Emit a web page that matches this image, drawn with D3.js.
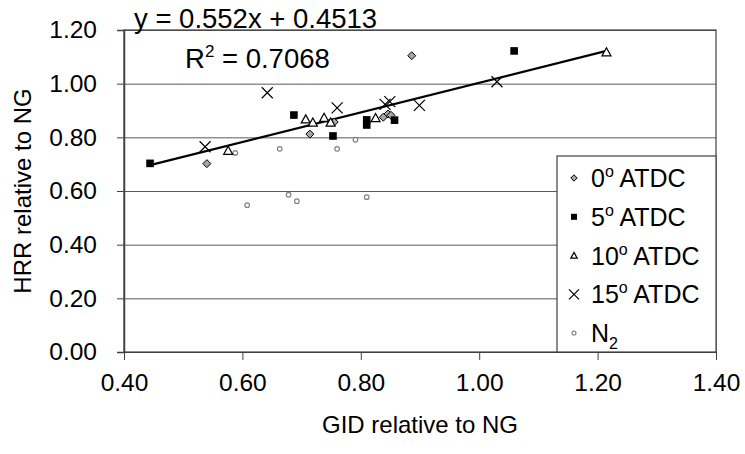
<!DOCTYPE html>
<html>
<head>
<meta charset="utf-8">
<script src="https://cdn.jsdelivr.net/npm/d3@7"></script>
<style>
  body { margin: 0; background: #fff; }
  svg { display: block; font-family: "Liberation Sans", Arial, sans-serif; }
</style>
</head>
<body>
<div id="chart"></div>
<script>
// GID relative to NG (x) and HRR relative to NG (y)
var gid0 = [0.540, 0.714, 0.750, 0.755, 0.838, 0.846, 0.851, 0.886];
var hrr0 = [0.702, 0.812, 0.855, 0.857, 0.875, 0.887, 0.882, 1.104];

var gid5 = [0.444, 0.687, 0.753, 0.810, 0.810, 0.857, 1.059];
var hrr5 = [0.703, 0.883, 0.805, 0.865, 0.846, 0.864, 1.122];

var gid10 = [0.576, 0.707, 0.719, 0.738, 0.749, 0.825, 1.215];
var hrr10 = [0.750, 0.867, 0.855, 0.873, 0.855, 0.872, 1.117];

var gid15 = [0.537, 0.642, 0.760, 0.841, 0.849, 0.899, 1.030];
var hrr15 = [0.765, 0.966, 0.910, 0.923, 0.933, 0.919, 1.007];

var gidN2 = [0.588, 0.663, 0.760, 0.791, 0.608, 0.678, 0.692, 0.810];
var hrrN2 = [0.742, 0.757, 0.757, 0.791, 0.547, 0.586, 0.562, 0.577];

var xTicks = [0.40, 0.60, 0.80, 1.00, 1.20, 1.40];
var yTicks = [0.00, 0.20, 0.40, 0.60, 0.80, 1.00, 1.20];

var slope = 0.552, intercept = 0.4513, r2 = 0.7068;

var width = 745, height = 454;
var pLeft = 124, pRight = 716, pTop = 30, pBottom = 352;

var x = d3.scaleLinear().domain([0.4, 1.4]).range([pLeft, pRight]);
var y = d3.scaleLinear().domain([0, 1.2]).range([pBottom, pTop]);

var svg = d3.select("#chart").append("svg")
    .attr("width", width)
    .attr("height", height);

// gridlines
svg.append("g")
    .attr("transform", "translate(" + pLeft + ",0)")
    .call(d3.axisLeft(y).tickValues(yTicks).tickSize(-(pRight - pLeft)).tickFormat(""))
    .call(g => g.select(".domain").remove())
    .call(g => g.selectAll("line").attr("stroke", "#5a5a5a"));

// plot border
svg.append("rect")
    .attr("x", pLeft).attr("y", pTop)
    .attr("width", pRight - pLeft).attr("height", pBottom - pTop)
    .attr("fill", "none").attr("stroke", "#404040").attr("stroke-width", 1.2);

// y axis
svg.append("g")
    .attr("transform", "translate(" + pLeft + ",0)")
    .call(d3.axisLeft(y).tickValues(yTicks).tickSize(7).tickPadding(20).tickFormat(d3.format(".2f")))
    .call(g => g.select(".domain").attr("stroke", "#404040").attr("stroke-width", 1.5))
    .call(g => g.selectAll("line").attr("stroke", "#404040"))
    .call(g => g.selectAll("text").attr("font-size", 24.5).attr("fill", "#000").attr("font-family", null));

// x axis
svg.append("g")
    .attr("transform", "translate(0," + pBottom + ")")
    .call(d3.axisBottom(x).tickValues(xTicks).tickSize(8).tickPadding(14).tickFormat(d3.format(".2f")))
    .call(g => g.select(".domain").attr("stroke", "#404040"))
    .call(g => g.selectAll("line").attr("stroke", "#404040"))
    .call(g => g.selectAll("text").attr("font-size", 24.5).attr("fill", "#000").attr("font-family", null));

// axis titles
svg.append("text")
    .attr("transform", "translate(31," + ((pTop + pBottom) / 2) + ") rotate(-90)")
    .attr("text-anchor", "middle")
    .attr("font-size", 24)
    .text("HRR relative to NG");

svg.append("text")
    .attr("x", (pLeft + pRight) / 2)
    .attr("y", 433)
    .attr("text-anchor", "middle")
    .attr("font-size", 24)
    .text("GID relative to NG");

// trendline over the fitted series (N2 not included)
var fitX = gid0.concat(gid5, gid10, gid15);
var x0 = d3.min(fitX), x1 = d3.max(fitX);
svg.append("line")
    .attr("x1", x(x0)).attr("y1", y(slope * x0 + intercept))
    .attr("x2", x(x1)).attr("y2", y(slope * x1 + intercept))
    .attr("stroke", "#000").attr("stroke-width", 2.2);

// marker drawers
function diamond(g, s) {
    g.append("path").attr("d", "M0," + (-s) + "L" + s + ",0L0," + s + "L" + (-s) + ",0Z")
        .attr("fill", "#a6a6a6").attr("stroke", "#000").attr("stroke-width", 1);
}
function square(g, s) {
    g.append("rect").attr("x", -s).attr("y", -s).attr("width", 2 * s).attr("height", 2 * s)
        .attr("fill", "#000");
}
function triangle(g, s) {
    g.append("path").attr("d", "M0," + (-s) + "L" + s + "," + (s * 0.8) + "L" + (-s) + "," + (s * 0.8) + "Z")
        .attr("fill", "#fff").attr("stroke", "#000").attr("stroke-width", 1.2);
}
function cross(g, s) {
    g.append("path").attr("d", "M" + (-s) + "," + (-s) + "L" + s + "," + s + "M" + (-s) + "," + s + "L" + s + "," + (-s))
        .attr("fill", "none").attr("stroke", "#000").attr("stroke-width", 1.2);
}
function circle(g, s) {
    g.append("circle").attr("r", s)
        .attr("fill", "#fff").attr("stroke", "#808080").attr("stroke-width", 1.2);
}

var series = [
    { gid: gidN2, hrr: hrrN2, draw: circle, size: 2.3, lsize: 2, label: "N", sub: "2" },
    { gid: gid0, hrr: hrr0, draw: diamond, size: 4, lsize: 3.2, label: "0", sup: true },
    { gid: gid5, hrr: hrr5, draw: square, size: 3.8, lsize: 3, label: "5", sup: true },
    { gid: gid10, hrr: hrr10, draw: triangle, size: 4.5, lsize: 3.2, label: "10", sup: true },
    { gid: gid15, hrr: hrr15, draw: cross, size: 5.5, lsize: 5, label: "15", sup: true }
];

series.forEach(function(s) {
    var pts = svg.append("g").selectAll("g")
        .data(d3.range(s.gid.length))
        .enter().append("g")
        .attr("transform", function(i) { return "translate(" + x(s.gid[i]) + "," + y(s.hrr[i]) + ")"; });
    pts.each(function() { s.draw(d3.select(this), s.size); });
});

// legend
var legend = svg.append("g");
legend.append("rect")
    .attr("x", 557).attr("y", 156)
    .attr("width", pRight - 557).attr("height", pBottom - 156)
    .attr("fill", "#fff").attr("stroke", "#404040").attr("stroke-width", 1.2);

var legendOrder = [1, 2, 3, 4, 0];
legendOrder.forEach(function(k, i) {
    var s = series[k];
    var cy = 178 + i * 38.8;
    var g = legend.append("g").attr("transform", "translate(574," + cy + ")");
    s.draw(g, s.lsize);
    var t = legend.append("text")
        .attr("x", 591).attr("y", cy + 9)
        .attr("font-size", 25);
    t.append("tspan").text(s.label);
    if (s.sup) {
        t.append("tspan").attr("dy", -10).attr("font-size", 16).text("o");
        t.append("tspan").attr("dy", 10).text(" ATDC");
    } else {
        t.append("tspan").attr("dy", 7).attr("font-size", 16).text(s.sub);
    }
});

// regression label
svg.append("text")
    .attr("x", 134).attr("y", 28)
    .attr("font-size", 27.5)
    .text("y = " + slope + "x + " + intercept);

var rt = svg.append("text")
    .attr("x", 185).attr("y", 68)
    .attr("font-size", 27.5);
rt.append("tspan").text("R");
rt.append("tspan").attr("dy", -11).attr("font-size", 17).text("2");
rt.append("tspan").attr("dy", 11).text(" = " + r2);
</script>
</body>
</html>
